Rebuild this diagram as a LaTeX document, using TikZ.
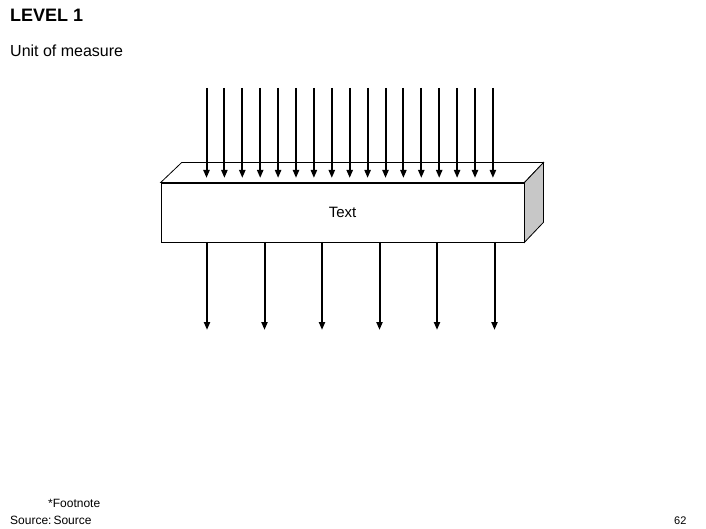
\documentclass[tikz,border=0pt]{standalone}
\usepackage{fontspec}
\setmainfont{Liberation Sans}
\usetikzlibrary{arrows.meta,positioning,calc}

\tikzset{
  flow/.style={-{Triangle[length=8pt,width=6pt]}, line width=2pt},
  slab/.style={draw, line width=0.8pt, fill=white, rectangle, minimum width=363pt, minimum height=59pt, inner sep=0pt},
  label/.style={inner sep=0pt, anchor=base west}
}

\begin{document}
\begin{tikzpicture}[x=1pt,y=-1pt]
\useasboundingbox (0,0) rectangle (706,529);

% titles
\node[label, font=\bfseries\fontsize{18}{21}\selectfont] (title) at (10,22) {LEVEL 1};
\node[label, font=\fontsize{16}{19}\selectfont] (unit) at (10,57) {Unit of measure};

% the slab
\node[slab] (box) at (342.5,212.5) {};
\coordinate (tl) at ($(box.north west)+(21,-20)$);
\coordinate (tr) at ($(box.north east)+(19,-20)$);
\coordinate (br) at ($(box.south east)+(19,-20)$);
\draw[line width=0.8pt, fill=white] (box.north west) -- (tl) -- (tr) -- (box.north east) -- cycle;
\draw[line width=0.8pt, fill=black!22] (box.north east) -- (tr) -- (br) -- (box.south east) -- cycle;
\node[font=\fontsize{15}{18}\selectfont] (txt) at (box.center) {Text};

% inputs
\foreach \i in {0,...,16} {
  \coordinate (in\i) at (206.5+17.9*\i,88);
  \coordinate (inend\i) at (206.5+17.9*\i,178);
  \draw[flow] (in\i) -- (inend\i);
}

% outputs
\foreach \i in {0,...,5} {
  \coordinate (out\i) at (207+57.5*\i,242);
  \coordinate (outend\i) at (207+57.5*\i,330);
  \draw[flow] (out\i) -- (outend\i);
}

% footer
\node[label, font=\fontsize{12}{14}\selectfont] (note) at (48,507) {*Footnote};
\node[label, font=\fontsize{12}{14}\selectfont] (source) at (10,524) {Source:\,Source};
\node[label, font=\fontsize{11}{13}\selectfont] (page) at (674,524) {62};
\end{tikzpicture}
\end{document}
